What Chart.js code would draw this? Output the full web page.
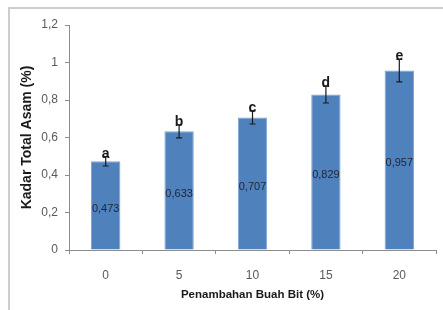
<!DOCTYPE html>
<html>
<head>
<meta charset="utf-8">
<script src="https://cdn.jsdelivr.net/npm/chart.js@4"></script>
<style>
  body { margin:0; background:#fff; }
  #wrap { position:relative; width:443px; height:310px; }
  #frame { position:absolute; left:8px; top:7px; width:440px; height:310px;
           border-top:2px solid #cdcdcd; border-left:2px solid #cdcdcd; }
  canvas { position:absolute; left:0; top:0; }
</style>
</head>
<body>
<div id="wrap">
  <div id="frame"></div>
  <canvas id="grafik" width="443" height="310"></canvas>
</div>
<script>
const kategori = ["0", "5", "10", "15", "20"];
const kadarAsam = [0.473, 0.633, 0.707, 0.829, 0.957];
const galat = [0.025, 0.035, 0.035, 0.045, 0.06];
const notasi = ["a", "b", "c", "d", "e"];
const labelNilai = ["0,473", "0,633", "0,707", "0,829", "0,957"];

const fontUtama = "'Liberation Sans', sans-serif";

// error bar, huruf notasi dan nilai di dalam batang
const pluginBatang = {
  id: "pluginBatang",
  afterDatasetsDraw(chart) {
    const ctx = chart.ctx;
    const y = chart.scales.y;
    const meta = chart.getDatasetMeta(0);
    ctx.save();
    meta.data.forEach((bar, i) => {
      const x = bar.x;
      const atas = y.getPixelForValue(kadarAsam[i] + galat[i]);
      const bawah = y.getPixelForValue(kadarAsam[i] - galat[i]);
      ctx.strokeStyle = "#1a1a1a";
      ctx.lineWidth = 1.2;
      ctx.beginPath();
      ctx.moveTo(x, atas); ctx.lineTo(x, bawah);
      ctx.moveTo(x - 3, atas); ctx.lineTo(x + 3, atas);
      ctx.moveTo(x - 3, bawah); ctx.lineTo(x + 3, bawah);
      ctx.stroke();

      ctx.fillStyle = "#1a1a1a";
      ctx.font = "bold 14px " + fontUtama;
      ctx.textAlign = "center";
      ctx.textBaseline = "alphabetic";
      ctx.fillText(notasi[i], x, atas + 1);

      ctx.fillStyle = "#1c2633";
      ctx.font = "11px " + fontUtama;
      ctx.textBaseline = "middle";
      const tengah = y.getPixelForValue(kadarAsam[i] / 2);
      ctx.fillText(labelNilai[i], x, tengah + 3);
    });
    ctx.restore();
  }
};

new Chart(document.getElementById("grafik"), {
  type: "bar",
  data: {
    labels: kategori,
    datasets: [{
      data: kadarAsam,
      backgroundColor: "#4f81bd",
      borderColor: "#7da3d6",
      borderWidth: 1,
      categoryPercentage: 1,
      barPercentage: 0.4
    }]
  },
  options: {
    responsive: false,
    animation: false,
    events: [],
    layout: { padding: { left: 10, right: 7, top: 25, bottom: 0 } },
    plugins: { legend: { display: false }, tooltip: { enabled: false } },
    scales: {
      x: {
        afterFit: s => { s.height = 60; },
        grid: { offset: true, drawOnChartArea: false, tickLength: 4, color: "#8c8c8c" },
        border: { color: "#8c8c8c" },
        ticks: { color: "#595959", padding: 14, font: { family: fontUtama, size: 12 } },
        title: {
          display: true,
          text: "Penambahan Buah Bit (%)",
          color: "#1a1a1a",
          font: { family: fontUtama, size: 11.5, weight: "bold" },
          padding: { top: 0, bottom: 8 }
        }
      },
      y: {
        min: 0,
        max: 1.2,
        afterFit: s => { s.width = 59; },
        grid: { drawOnChartArea: false, tickLength: 4, color: "#8c8c8c" },
        border: { color: "#8c8c8c" },
        ticks: {
          stepSize: 0.2,
          color: "#595959",
          padding: 7,
          font: { family: fontUtama, size: 12 },
          callback: v => (Math.round(v * 10) / 10).toString().replace(".", ",")
        },
        title: {
          display: true,
          text: "Kadar Total Asam (%)",
          color: "#1a1a1a",
          font: { family: fontUtama, size: 14, weight: "bold" },
          padding: { top: 9, bottom: 0 }
        }
      }
    }
  },
  plugins: [pluginBatang]
});
</script>
</body>
</html>
